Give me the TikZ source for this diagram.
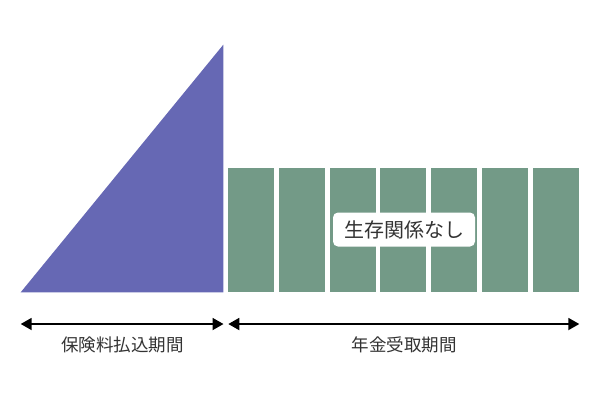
\documentclass[tikz,border=0pt]{standalone}
\usepackage{fontspec}
\setmainfont{Noto Sans CJK JP}
\usetikzlibrary{arrows.meta}
\definecolor{paycolor}{HTML}{6668B4}
\definecolor{pensioncolor}{HTML}{739A87}
\definecolor{textgray}{HTML}{333333}
\begin{document}
\begin{tikzpicture}[x=1pt,y=-1pt]
  \tikzset{
    bar/.style={fill=pensioncolor,minimum width=46pt,minimum height=124pt,inner sep=0pt},
    tag/.style={fill=white,rounded corners=5pt,text=textgray,font=\fontsize{20pt}{20pt}\selectfont,
                inner xsep=11pt,minimum height=34pt},
    period/.style={text=textgray,font=\fontsize{17.5pt}{17.5pt}\selectfont},
    span/.style={{Triangle[length=11pt,width=12pt]}-{Triangle[length=11pt,width=12pt]},line width=1.8pt}
  }
  \useasboundingbox (0,0) rectangle (600,400);
  % premium payment: growing triangle
  \fill [paycolor] (20.7,292.3) -- (223.3,292.3) -- (223.3,44.7) -- cycle;
  % pension bars
  \foreach \i in {0,...,6}
    \node [bar] (bar\i) at ({251.3+50.7*\i},230.3) {};
  \node [tag] (nolife) at (404,229.5) {生存関係なし};
  % periods
  \coordinate (payL) at (20.7,324);
  \coordinate (payR) at (223.5,324);
  \coordinate (penL) at (228.3,324);
  \coordinate (penR) at (579.3,324);
  \draw [span] (payL) -- (payR);
  \draw [span] (penL) -- (penR);
  \node [period] (paylabel) at (122.5,345) {保険料払込期間};
  \node [period] (penlabel) at (404,345) {年金受取期間};
\end{tikzpicture}
\end{document}
